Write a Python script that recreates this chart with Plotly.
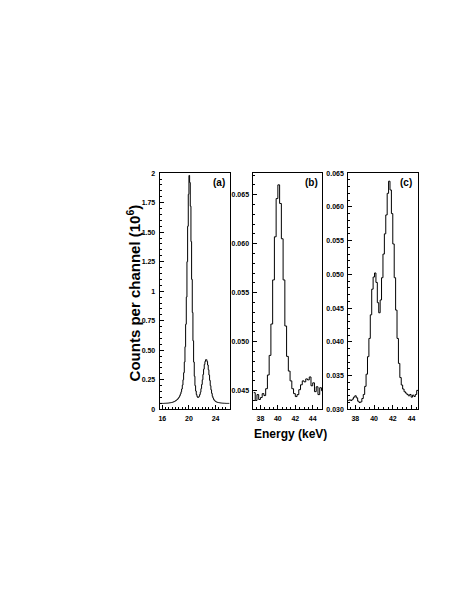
import plotly.graph_objects as go

# ---------------- data ----------------
# panel (a): channel width 0.1 keV starting at 15.6 keV
A_START = 15.6
A_STEP = 0.1
a_counts = [
    0.050, 0.050, 0.050, 0.050, 0.050, 0.050, 0.050, 0.051, 0.051, 0.051,
    0.052, 0.052, 0.053, 0.053, 0.054, 0.055, 0.056, 0.057,
    0.058, 0.060, 0.062, 0.064, 0.067, 0.070, 0.074, 0.078, 0.083, 0.089,
    0.096, 0.105, 0.116, 0.130, 0.148, 0.172, 0.205, 0.250, 0.310, 0.400,
    0.530, 0.720, 0.950, 1.250, 1.550, 1.820, 1.980, 1.920, 1.720, 1.420,
    1.100, 0.820, 0.580, 0.400, 0.280, 0.200, 0.155, 0.125, 0.108, 0.100,
    0.102, 0.110, 0.125, 0.145, 0.175, 0.210, 0.250, 0.295, 0.340, 0.380,
    0.405, 0.420, 0.420, 0.405, 0.375, 0.335, 0.290, 0.245, 0.200, 0.165,
    0.135, 0.110, 0.095, 0.083, 0.075, 0.069, 0.065, 0.062, 0.060, 0.058,
    0.057, 0.056, 0.055, 0.054, 0.053, 0.053, 0.052, 0.052, 0.051, 0.051,
    0.051, 0.050, 0.050, 0.050, 0.050, 0.050, 0.050,
]

# panel (b): channel width 0.2 keV starting at 37.2 keV
B_START = 37.2
B_STEP = 0.2
b_counts = [
    0.0448, 0.0440, 0.0446, 0.0441, 0.0443, 0.0447, 0.0445, 0.0452, 0.0466, 0.0486,
    0.0518, 0.0563, 0.0607, 0.0646, 0.0660, 0.0641, 0.0605, 0.0563, 0.0516, 0.0485,
    0.0470, 0.0460, 0.0452, 0.0447, 0.0444, 0.0446, 0.0451, 0.0456, 0.0460, 0.0459,
    0.0462, 0.0461, 0.0464, 0.0455, 0.0458, 0.0449, 0.0454, 0.0446, 0.0453, 0.0450,
]

# panel (c): channel width 0.15 keV starting at 37.2 keV
C_START = 37.2
C_STEP = 0.15
c_counts = [
    0.0313, 0.0314, 0.0313, 0.0315, 0.0318, 0.0320, 0.0317, 0.0312, 0.0310, 0.0311,
    0.0316, 0.0322, 0.0334, 0.0352, 0.0378, 0.0405, 0.0440, 0.0478, 0.0496, 0.0502,
    0.0488, 0.0458, 0.0443, 0.0462, 0.0495, 0.0530, 0.0560, 0.0588, 0.0620, 0.0638,
    0.0625, 0.0590, 0.0545, 0.0495, 0.0447, 0.0405, 0.0368, 0.0347, 0.0336, 0.0330,
    0.0326, 0.0324, 0.0322, 0.0320, 0.0322, 0.0318, 0.0321, 0.0319, 0.0322, 0.0328,
]

a_xticks = [16, 20, 24]
a_yticks = [0, 0.25, 0.5, 0.75, 1, 1.25, 1.5, 1.75, 2]
a_yticktext = ["0", "0.25", "0.50", "0.75", "1", "1.25", "1.50", "1.75", "2"]
b_xticks = [38, 40, 42, 44]
b_yticks = [0.045, 0.050, 0.055, 0.060, 0.065]
b_yticktext = ["0.045", "0.050", "0.055", "0.060", "0.065"]
c_xticks = [38, 40, 42, 44]
c_yticks = [0.030, 0.035, 0.040, 0.045, 0.050, 0.055, 0.060, 0.065]
c_yticktext = ["0.030", "0.035", "0.040", "0.045", "0.050", "0.055", "0.060", "0.065"]

panel_labels = ["(a)", "(b)", "(c)"]
y_title = "Counts per channel (10<sup>6</sup>)"
x_title = "Energy (keV)"


def step_xy(start, step, vals):
    xs = [start + i * step for i in range(len(vals) + 1)]
    ys = list(vals) + [vals[-1]]
    return xs, ys


W, H = 463, 599
OFF = 8  # page body margin
fig = go.Figure()

panels = [
    (A_START, A_STEP, a_counts, "x", "y"),
    (B_START, B_STEP, b_counts, "x2", "y2"),
    (C_START, C_STEP, c_counts, "x3", "y3"),
]
for start, step, vals, xa, ya in panels:
    xs, ys = step_xy(start, step, vals)
    fig.add_trace(go.Scatter(x=xs, y=ys, mode="lines", line=dict(shape="hv", color="black", width=1),
                             xaxis=xa, yaxis=ya, showlegend=False, hoverinfo="skip"))


def px_x(v):
    return (v - OFF) / W


def px_y(v):
    return 1 - (v - OFF) / H


tickfont = dict(family="Liberation Sans, Arial, sans-serif", size=7, color="black", weight="bold")
ydom = [px_y(410), px_y(171)]
xdoms = [[px_x(159), px_x(229)], [px_x(253), px_x(322)], [px_x(348), px_x(418)]]


def xaxis(dom, rng, ticks, anchor, minor_dt):
    return dict(domain=dom, range=rng, tickvals=ticks, ticktext=[str(t) for t in ticks], anchor=anchor,
                showline=True, mirror=True, linecolor="black", linewidth=1, ticks="inside", ticklen=4,
                tickcolor="black", tickfont=tickfont, showgrid=False, zeroline=False, ticklabelstandoff=2,
                minor=dict(dtick=minor_dt, ticks="inside", ticklen=2, tickcolor="black", showgrid=False))


def yaxis(rng, ticks, text, anchor, minor_dt):
    return dict(domain=ydom, range=rng, tickvals=ticks, ticktext=text, anchor=anchor,
                showline=True, mirror=True, linecolor="black", linewidth=1, ticks="inside", ticklen=4,
                tickcolor="black", tickfont=tickfont, showgrid=False, zeroline=False, ticklabelstandoff=2,
                minor=dict(dtick=minor_dt, ticks="inside", ticklen=2, tickcolor="black", showgrid=False))


fig.update_layout(
    width=W, height=H, margin=dict(l=0, r=0, t=0, b=0),
    paper_bgcolor="white", plot_bgcolor="white",
    xaxis=xaxis(xdoms[0], [15.6, 26.1], a_xticks, "y", 0.5),
    yaxis=yaxis([0, 2.0], a_yticks, a_yticktext, "x", 0.05),
    xaxis2=xaxis(xdoms[1], [37.2, 45.1], b_xticks, "y2", 0.5),
    yaxis2=yaxis([0.0431, 0.0672], b_yticks, b_yticktext, "x2", 0.001),
    xaxis3=xaxis(xdoms[2], [37.25, 44.7], c_xticks, "y3", 0.5),
    yaxis3=yaxis([0.030, 0.065], c_yticks, c_yticktext, "x3", 0.001),
)

lblfont = dict(family="Liberation Sans, Arial, sans-serif", size=10, color="black", weight="bold")
for lab, px in zip(panel_labels, [218, 311, 406]):
    fig.add_annotation(text=lab, x=px_x(px), y=px_y(181), xref="paper", yref="paper",
                       showarrow=False, font=lblfont, xanchor="center", yanchor="middle")

fig.add_annotation(text=y_title, x=px_x(133), y=px_y(292), xref="paper", yref="paper", textangle=-90,
                   showarrow=False, xanchor="center", yanchor="middle",
                   font=dict(family="Liberation Sans, Arial, sans-serif", size=15, color="black", weight="bold"))
fig.add_annotation(text=x_title, x=px_x(290), y=px_y(435), xref="paper", yref="paper",
                   showarrow=False, xanchor="center", yanchor="middle",
                   font=dict(family="Liberation Sans, Arial, sans-serif", size=12, color="black", weight="bold"))

fig.write_html("out.html")
